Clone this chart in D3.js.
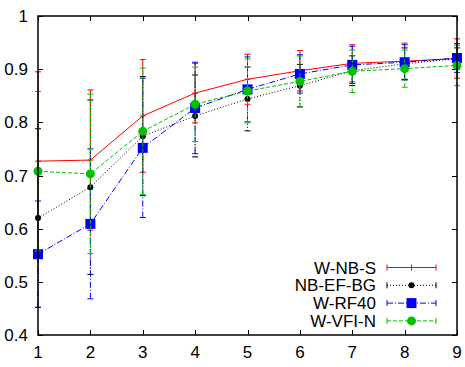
<!DOCTYPE html>
<html>
<head>
<meta charset="utf-8">
<script src="https://cdn.jsdelivr.net/npm/d3@7"></script>
<style>
  body { margin: 0; background: #fff; }
  text { font-family: "Liberation Sans", Arial, sans-serif; font-size: 17px; fill: #000; }
</style>
</head>
<body>
<div id="chart"></div>
<script>
// x positions and tick labels
var xValues = [1, 2, 3, 4, 5, 6, 7, 8, 9];
var yTicks = [0.4, 0.5, 0.6, 0.7, 0.8, 0.9, 1];
var seriesNames = ['W-NB-S', 'NB-EF-BG', 'W-RF40', 'W-VFI-N'];

// means and error half-widths
var wnbsMean = [0.727, 0.729, 0.812, 0.855, 0.881, 0.897, 0.911, 0.915, 0.920];
var wnbsErr  = [0.168, 0.132, 0.106, 0.056, 0.047, 0.038, 0.035, 0.034, 0.037];
var nbefMean = [0.620, 0.678, 0.774, 0.812, 0.844, 0.869, 0.897, 0.910, 0.920];
var nbefErr  = [0.168, 0.164, 0.112, 0.077, 0.060, 0.040, 0.028, 0.030, 0.020];
var wrfMean  = [0.552, 0.609, 0.752, 0.827, 0.862, 0.891, 0.908, 0.913, 0.921];
var wrfErr   = [0.100, 0.141, 0.131, 0.086, 0.061, 0.036, 0.035, 0.033, 0.027];
var wvfiMean = [0.708, 0.703, 0.783, 0.834, 0.859, 0.877, 0.896, 0.901, 0.907];
var wvfiErr  = [0.150, 0.150, 0.119, 0.070, 0.060, 0.048, 0.040, 0.035, 0.038];

var width = 465, height = 367;
var margin = {top: 16, right: 8, bottom: 32, left: 38};
var chartWidth = width - margin.left - margin.right;
var chartHeight = height - margin.top - margin.bottom;

var svg = d3.select('#chart').append('svg')
    .attr('width', width)
    .attr('height', height);

var chartGroup = svg.append('g')
    .attr('transform', `translate(${margin.left}, ${margin.top})`);

var xScale = d3.scaleLinear().domain([1, 9]).range([0, chartWidth]);
var yScale = d3.scaleLinear().domain([0.4, 1]).range([chartHeight, 0]);

// series styles
var series = [
    {name: seriesNames[0], mean: wnbsMean, err: wnbsErr, color: '#ff0000', dash: null, point: 'plus'},
    {name: seriesNames[1], mean: nbefMean, err: nbefErr, color: '#000000', dash: '1,2', point: 'dot'},
    {name: seriesNames[2], mean: wrfMean, err: wrfErr, color: '#0000ff', dash: '6,2,1,2', point: 'square'},
    {name: seriesNames[3], mean: wvfiMean, err: wvfiErr, color: '#00c000', dash: '4,2', point: 'circle'}
];

// ticks on all four sides, pointing inward
var tickLen = 5;
var ticksG = chartGroup.append('g').attr('stroke', '#000').attr('stroke-width', 1);
yTicks.forEach(function (t) {
    var y = Math.round(yScale(t)) + 0.5;
    ticksG.append('line').attr('x1', 0).attr('x2', tickLen).attr('y1', y).attr('y2', y);
    ticksG.append('line').attr('x1', chartWidth - tickLen).attr('x2', chartWidth).attr('y1', y).attr('y2', y);
    chartGroup.append('text')
        .attr('x', -10).attr('y', yScale(t) + 6)
        .attr('text-anchor', 'end')
        .text(t === 1 ? '1' : d3.format('.1f')(t));
});
xValues.forEach(function (t) {
    var x = Math.round(xScale(t)) + 0.5;
    ticksG.append('line').attr('x1', x).attr('x2', x).attr('y1', chartHeight).attr('y2', chartHeight - tickLen);
    ticksG.append('line').attr('x1', x).attr('x2', x).attr('y1', 0).attr('y2', tickLen);
    chartGroup.append('text')
        .attr('x', xScale(t)).attr('y', chartHeight + 23)
        .attr('text-anchor', 'middle')
        .text(t);
});

function drawPoint(g, type, x, y, color) {
    if (type === 'plus') {
        g.append('path').attr('d', `M${x - 3},${y}H${x + 3}M${x},${y - 3}V${y + 3}`)
            .attr('stroke', color).attr('stroke-width', 1).attr('fill', 'none');
    } else if (type === 'dot') {
        g.append('circle').attr('cx', x).attr('cy', y).attr('r', 3).attr('fill', color);
    } else if (type === 'square') {
        g.append('rect').attr('x', x - 5).attr('y', y - 5).attr('width', 10).attr('height', 10).attr('fill', color);
    } else {
        g.append('circle').attr('cx', x).attr('cy', y).attr('r', 4.5).attr('fill', color);
    }
}

var line = d3.line()
    .x(d => xScale(d.x))
    .y(d => yScale(d.y));

series.forEach(function (s) {
    var g = chartGroup.append('g');
    var pts = xValues.map((x, i) => ({x: x, y: s.mean[i], e: s.err[i]}));

    // error bars
    pts.forEach(function (p) {
        var x = xScale(p.x);
        var y0 = yScale(p.y - p.e), y1 = yScale(p.y + p.e);
        g.append('line').attr('x1', x).attr('x2', x).attr('y1', y0).attr('y2', y1)
            .attr('stroke', s.color).attr('stroke-width', 1).attr('stroke-dasharray', s.dash);
        [y0, y1].forEach(function (yy) {
            g.append('line').attr('x1', x - 3).attr('x2', x + 3).attr('y1', yy).attr('y2', yy)
                .attr('stroke', s.color).attr('stroke-width', 1);
        });
    });

    g.append('path').datum(pts)
        .attr('d', line)
        .attr('fill', 'none')
        .attr('stroke', s.color)
        .attr('stroke-width', 1)
        .attr('stroke-dasharray', s.dash);

    pts.forEach(p => drawPoint(g, s.point, xScale(p.x), yScale(p.y), s.color));
});

// legend
var legend = chartGroup.append('g');
series.forEach(function (s, i) {
    var y = 251.5 + i * 17.8;
    legend.append('text')
        .attr('x', 338).attr('y', y + 6)
        .attr('text-anchor', 'end')
        .text(s.name);
    legend.append('line').attr('x1', 349).attr('x2', 398).attr('y1', y).attr('y2', y)
        .attr('stroke', s.color).attr('stroke-width', 1).attr('stroke-dasharray', s.dash);
    [349, 398].forEach(function (xx) {
        legend.append('line').attr('x1', xx).attr('x2', xx).attr('y1', y - 3).attr('y2', y + 3)
            .attr('stroke', s.color).attr('stroke-width', 1);
    });
    drawPoint(legend, s.point, 373.5, y, s.color);
});

// frame
chartGroup.append('rect')
    .attr('width', chartWidth)
    .attr('height', chartHeight)
    .attr('fill', 'none')
    .attr('stroke', '#000')
    .attr('stroke-width', 1.5);
</script>
</body>
</html>
